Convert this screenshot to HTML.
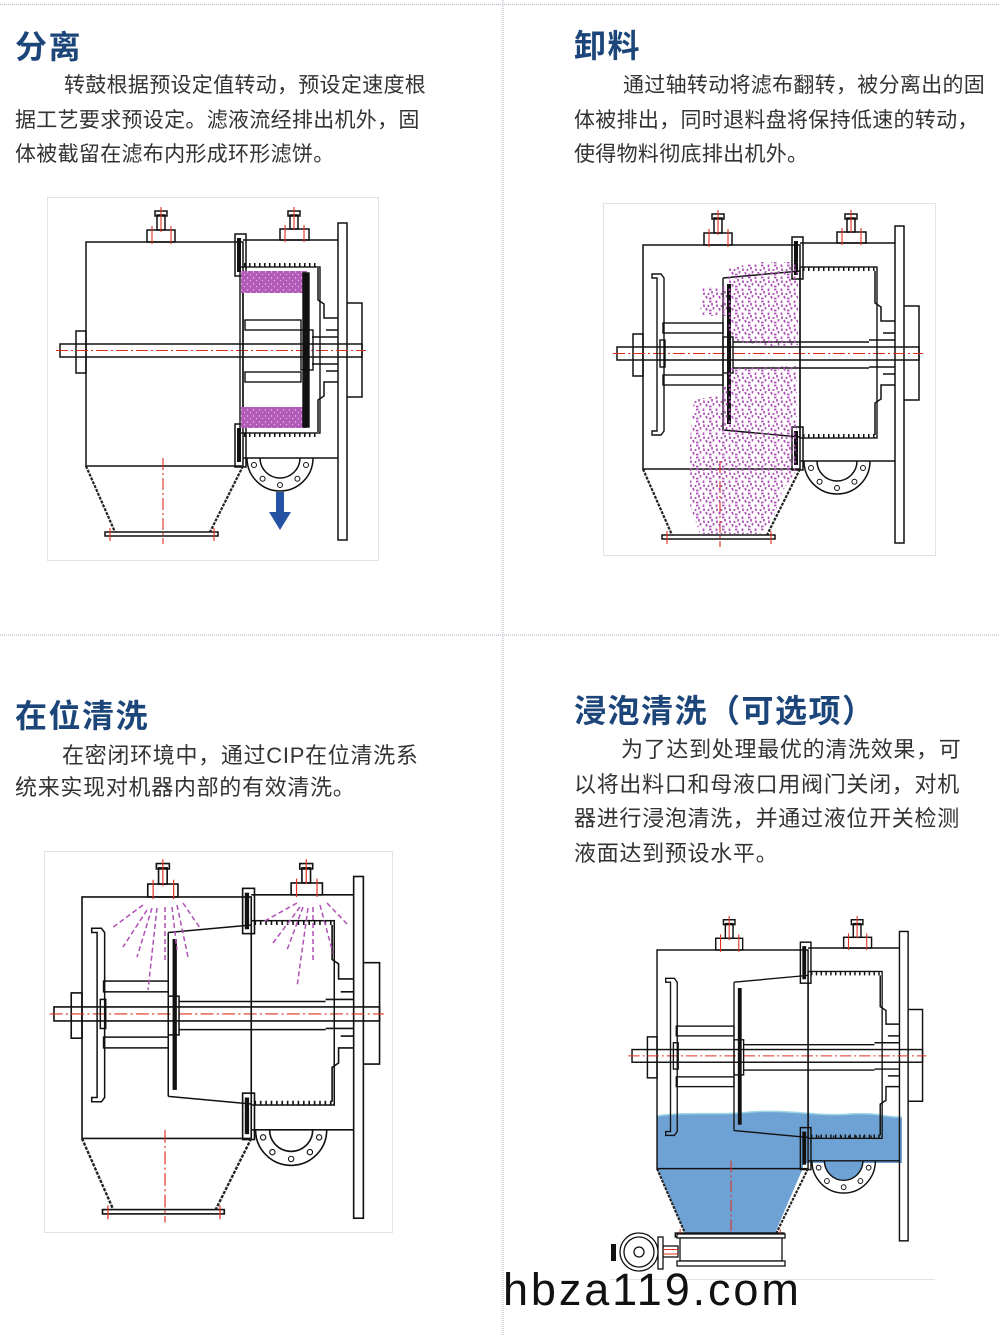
<!DOCTYPE html>
<html><head><meta charset="utf-8">
<style>
html,body{margin:0;padding:0;background:#fff;}
body{width:1000px;height:1336px;position:relative;overflow:hidden;font-family:"Liberation Sans","Noto Sans CJK SC",sans-serif;}
svg{position:absolute;left:0;top:0;}
.t{position:absolute;font-size:32px;line-height:32px;font-weight:bold;color:#1c4679;letter-spacing:1.5px;white-space:nowrap;}
.p{position:absolute;color:#333;white-space:nowrap;}
.p1{font-size:21px;line-height:34.7px;letter-spacing:0.3px;text-indent:49px;}
.p2{font-size:22px;letter-spacing:0.7px;text-indent:47px;}
.wm{position:absolute;left:503px;top:1267px;font-size:45px;line-height:45px;letter-spacing:2.9px;color:#111;font-family:"Liberation Sans",sans-serif;white-space:nowrap;}
</style></head><body>
<svg width="1000" height="1336" viewBox="0 0 1000 1336" xmlns="http://www.w3.org/2000/svg">
<defs>
<pattern id="dots" width="13" height="12" patternUnits="userSpaceOnUse">
<path d="M1.5,0.5 v2.5 M2,4.5 v2.5 M7,1.5 h2.5 M10,3 v2.5 M11.5,7 v2.5 M4,8 l1,2.5 M7,10.5 h2.5 M6.5,5 v2" stroke="#ae4fb5" stroke-width="1.7" fill="none"/>
</pattern>
<pattern id="speck" width="6" height="6" patternUnits="userSpaceOnUse">
<rect width="6" height="6" fill="#b35bb9"/>
<circle cx="1.5" cy="2" r="0.7" fill="#e4c4e6"/>
<circle cx="4.5" cy="4.5" r="0.6" fill="#e4c4e6"/>
</pattern>
<g id="shell">
 <g fill="none" stroke="#111" stroke-width="1.5">
  <rect x="86" y="242" width="157" height="224"/>
  <path d="M243,240 H338 M243,458 H338"/>
  <rect x="338" y="223" width="9" height="317"/>
  <path d="M347,303 H362 V397 H347"/>
  <rect x="147" y="230" width="28" height="12"/>
  <rect x="157" y="215" width="8" height="15"/>
  <rect x="155" y="211" width="12" height="5"/>
  <rect x="280" y="229" width="29" height="11"/>
  <rect x="290" y="215" width="8" height="14"/>
  <rect x="288" y="211" width="12" height="5"/>
  <rect x="235" y="234" width="11" height="42"/>
  <rect x="235" y="424" width="11" height="43"/>
  <rect x="60" y="344" width="302" height="13"/>
  <rect x="76" y="331" width="10" height="42"/>
  <rect x="105" y="532" width="113" height="4"/>
  <path d="M247,458 A33,33 0 0 0 313,458 M260,458 A20,20 0 0 0 300,458"/>
  <path d="M318,268 V300 L324,304 V318 H338 M318,432 V400 L324,396 V382 H338 M312,337 H338 M312,364 H338 M326,330 H338 M326,371 H338"/>
 </g>
 <path d="M86,466 L115,532 M243,466 L210,532" stroke="#222" stroke-width="2.2" stroke-dasharray="3 1.2" fill="none"/>
 <g fill="none" stroke="#111" stroke-width="1">
  <circle cx="306" cy="465" r="2.5"/><circle cx="297.4" cy="478.7" r="2.5"/><circle cx="280" cy="485" r="2.5"/><circle cx="262.6" cy="478.7" r="2.5"/><circle cx="254" cy="465" r="2.5"/>
 </g>
 <g stroke="#e03020" stroke-width="1.1" fill="none">
  <path d="M152,226 V244 M171,226 V244 M161,207 V232 M285,225 V242 M304,225 V242 M294,207 V230 M110,528 V541 M214,528 V541"/>
  <path d="M56,350.5 H366 M163,458 V544" stroke-dasharray="12 3 2 3"/>
 </g>
 <g fill="#111"><rect x="237" y="238" width="4" height="34"/><rect x="237" y="428" width="4" height="34"/></g>
</g>
<g id="flip">
 <g fill="none" stroke="#111" stroke-width="1.4">
  <path d="M95,271 H104 L107,275 V428 L104,432 H95 V428 H100 V275 H95 Z"/>
  <rect x="106" y="320" width="60" height="10"/>
  <rect x="106" y="372" width="60" height="10"/>
  <rect x="103" y="337" width="5" height="27"/>
  <path d="M166,275 L243,268 M166,427 L243,434 M166,275 V427"/>
  <rect x="166" y="334" width="10" height="36"/>
  <path d="M176,339 H243 M176,365 H243 M243,339 H312 M243,365 H312"/>
  <rect x="243" y="264" width="77" height="171"/>
  <line x1="246" y1="266" x2="318" y2="266" stroke-width="4" stroke-dasharray="1.5 3.5"/>
  <line x1="246" y1="433" x2="318" y2="433" stroke-width="4" stroke-dasharray="1.5 3.5"/>
 </g>
 <rect x="170" y="281" width="4" height="140" fill="#111"/>
</g>
</defs>

<g stroke="#b8bccb" stroke-width="1.2" stroke-dasharray="1 1">
<line x1="0" y1="4.5" x2="1000" y2="4.5"/>
<line x1="0" y1="635" x2="1000" y2="635"/>
<line x1="503" y1="0" x2="503" y2="1336"/>
</g>

<g fill="none" stroke="#e3e3e3" stroke-width="1">
<rect x="47.5" y="197.5" width="331" height="363"/>
<rect x="603.5" y="203.5" width="332" height="352"/>
<rect x="44.5" y="851.5" width="348" height="381"/>
<path d="M610,1279.5 H935"/>
</g>

<use href="#shell"/>
<g fill="none" stroke="#111" stroke-width="1.4">
 <rect x="241" y="271" width="66" height="22" fill="url(#speck)" stroke="none"/>
 <rect x="241" y="407" width="66" height="21" fill="url(#speck)" stroke="none"/>
 <rect x="240" y="267" width="80" height="166"/>
 <line x1="244" y1="265" x2="318" y2="265" stroke-width="4" stroke-dasharray="1.5 3.5"/>
 <line x1="244" y1="435" x2="318" y2="435" stroke-width="4" stroke-dasharray="1.5 3.5"/>
 <rect x="303" y="273" width="6" height="154" fill="#111"/>
 <rect x="245" y="320" width="56" height="10"/>
 <rect x="245" y="372" width="56" height="10"/>
 <rect x="301" y="330" width="12" height="40"/>
 <line x1="243" y1="293" x2="243" y2="407"/>
</g>
<path d="M276,492 H284 V512 H291 L280,530 L269,512 H276 Z" fill="#2453a3"/>

<use href="#shell" transform="translate(557,3)"/>
<use href="#flip" transform="translate(557,3)"/>
<g fill="url(#dots)">
<path d="M728,268 L762,262 L798,262 L798,345 L772,346 L740,342 L728,335 Z"/>
<path d="M702,288 L727,286 L727,316 L700,316 Z"/>
<path d="M728,368 L797,366 L797,470 L782,492 L772,522 L760,534 L700,534 L690,505 L690,440 L694,400 L720,395 L728,380 Z"/>
</g>

<use href="#shell" transform="matrix(1.078,0,0,1.078,-10.7,636.1)"/>
<use href="#flip" transform="matrix(1.078,0,0,1.078,-10.7,636.1)"/>
<g stroke="#b050b8" stroke-width="1.5" stroke-dasharray="5 3" fill="none">
<path d="M143,905 L112,928 M147,910 L123,947 M152,908 L137,957 M157,908 L148,990 M165,907 L165,960 M172,907 L177,950 M177,905 L188,957 M183,903 L200,928"/>
<path d="M297,903 L263,922 M300,907 L273,943 M303,907 L287,950 M308,908 L297,987 M313,907 L313,962 M320,905 L333,953 M327,903 L348,925"/>
</g>

<path d="M657,1116 C690,1111 720,1116 750,1112 C790,1109 820,1117 850,1114 C875,1112 890,1118 902,1117 V1163 H803 V1168 L775,1233 H685 L657,1168 Z" fill="#6fa2d4"/>
<path d="M657,1116 C690,1111 720,1116 750,1112 C790,1109 820,1117 850,1114 C875,1112 890,1118 902,1117" fill="none" stroke="#9fd6e6" stroke-width="1.5"/>
<path d="M824.6,1162 A19,19 0 0 0 862.6,1162 Z" fill="#6fa2d4"/>
<use href="#shell" transform="matrix(0.962,0,0,0.976,574.3,713.8)"/>
<use href="#flip" transform="matrix(0.962,0,0,0.976,574.3,713.8)"/>
<line x1="818" y1="1137" x2="880" y2="1137" stroke="#222" stroke-width="3" stroke-dasharray="1.5 6"/>
<g fill="#fff" stroke="#111" stroke-width="1.3">
 <rect x="677" y="1234" width="108" height="4"/>
 <rect x="680" y="1238" width="102" height="23"/>
 <rect x="677" y="1261" width="108" height="5"/>
 <rect x="663" y="1246" width="15" height="11"/>
 <rect x="658" y="1237" width="5" height="32"/>
 <circle cx="639" cy="1252" r="19"/>
 <circle cx="639" cy="1252" r="15" fill="none"/>
 <circle cx="639" cy="1252" r="5"/>
</g>
<rect x="611" y="1244" width="5" height="17" fill="#111"/>
<path d="M663,1249.5 H678 M663,1254 H678" stroke="#e03020" stroke-width="1.1"/>
</svg>

<div class="t" style="left:15px;top:31px">分离</div>
<div class="p p1" style="left:15px;top:69px">转鼓根据预设定值转动，预设定速度根<br>据工艺要求预设定。滤液流经排出机外，固<br>体被截留在滤布内形成环形滤饼。</div>

<div class="t" style="left:574px;top:30px">卸料</div>
<div class="p p1" style="left:574px;top:69px">通过轴转动将滤布翻转，被分离出的固<br>体被排出，同时退料盘将保持低速的转动，<br>使得物料彻底排出机外。</div>

<div class="t" style="left:15px;top:700px">在位清洗</div>
<div class="p p2" style="left:15px;top:740px;line-height:32px">在密闭环境中，通过CIP在位清洗系<br>统来实现对机器内部的有效清洗。</div>

<div class="t" style="left:574px;top:695px">浸泡清洗（可选项）</div>
<div class="p p2" style="left:574px;top:733px;line-height:34.7px">为了达到处理最优的清洗效果，可<br>以将出料口和母液口用阀门关闭，对机<br>器进行浸泡清洗，并通过液位开关检测<br>液面达到预设水平。</div>

<div class="wm">hbza119.com</div>
</body></html>
